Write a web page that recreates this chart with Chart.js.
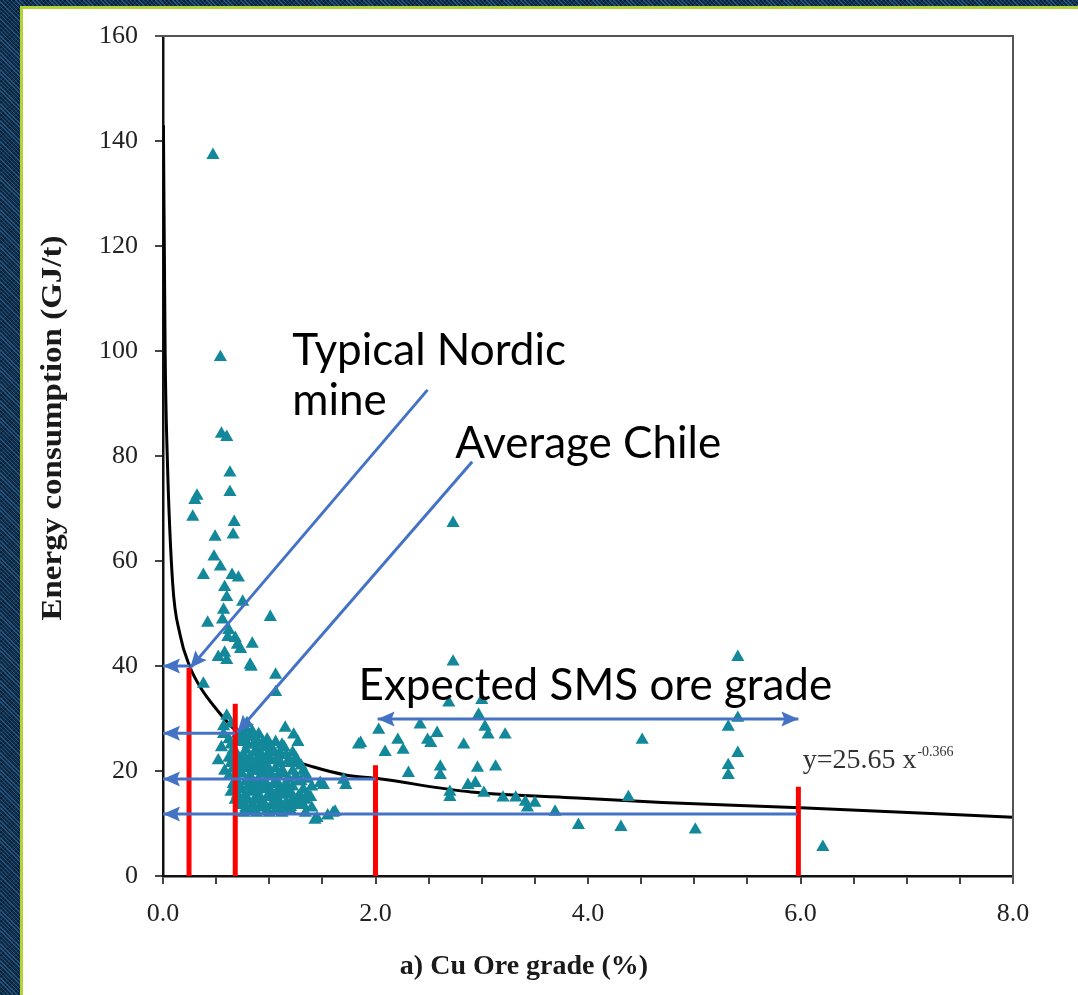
<!DOCTYPE html>
<html>
<head>
<meta charset="utf-8">
<script src="https://cdn.jsdelivr.net/npm/chart.js@4.4.0/dist/chart.umd.min.js"></script>
<style>
  html, body { margin: 0; padding: 0; width: 1078px; height: 995px; overflow: hidden; }
  body {
    background-color: #0f2f4d;
    background-image:
      repeating-linear-gradient(45deg, rgba(70,130,185,0.45) 0 1px, transparent 1px 3px),
      repeating-linear-gradient(-45deg, rgba(0,10,25,0.45) 0 1px, transparent 1px 3px);
  }
  #panel {
    position: absolute; left: 20px; top: 6px; right: 0; bottom: 0;
    background: #ffffff;
    border-left: 3px solid #b2d235; border-top: 3px solid #b2d235;
  }
  #wrap { position: absolute; left: 0; top: 0; width: 1078px; height: 995px; }
</style>
</head>
<body>
<div id="panel"></div>
<div id="wrap"><canvas id="c" width="1078" height="995"></canvas></div>
<script>
// Cu ore grade (%) vs. energy consumption (GJ/t) per mine
const cuGrade = [
  0.47, 0.54, 0.55, 0.60, 0.63, 0.63, 0.32, 0.30, 0.28, 0.67, 0.66, 0.49, 0.48, 0.54, 0.38,
  0.65, 0.71, 0.60, 0.75, 0.57, 0.42, 1.01, 0.56, 0.61, 0.68, 0.84, 0.73, 0.52, 0.60, 0.83,
  1.06, 0.38, 1.06, 0.58, 0.62, 0.70, 0.58, 0.82,
  0.55, 0.57, 0.52, 0.58, 0.60, 0.64, 0.57,
  0.62, 0.62, 0.62, 0.66, 0.66, 0.66, 0.70, 0.70, 0.70, 0.70, 0.70,
  0.74, 0.74, 0.74, 0.74, 0.74, 0.78, 0.78, 0.78, 0.78, 0.78,
  0.82, 0.82, 0.82, 0.82, 0.82, 0.86, 0.86, 0.86, 0.86, 0.86,
  0.90, 0.90, 0.90, 0.90, 0.90, 0.90, 0.94, 0.94, 0.94, 0.94, 0.94,
  0.98, 0.98, 0.98, 0.98, 0.98, 0.98, 1.02, 1.02, 1.02, 1.02, 1.02,
  1.06, 1.06, 1.06, 1.06, 1.06, 1.10, 1.10, 1.10, 1.10,
  1.14, 1.14, 1.14, 1.14, 1.18, 1.18, 1.18, 1.22, 1.22, 1.22, 1.22,
  1.27, 1.27, 1.27, 1.32, 1.32, 1.32, 1.36, 1.36,
  0.64, 0.64, 0.64, 0.68, 0.68, 0.68, 0.72, 0.72, 0.72, 0.72,
  0.76, 0.76, 0.76, 0.76, 0.76, 0.80, 0.80, 0.80, 0.80,
  0.84, 0.84, 0.84, 0.84, 0.88, 0.88, 0.88, 0.88, 0.92, 0.92, 0.92, 0.92,
  0.96, 0.96, 0.96, 0.96, 1.00, 1.00, 1.00, 1.00, 1.00,
  1.04, 1.04, 1.04, 1.08, 1.08, 1.08, 1.08, 1.12, 1.12, 1.12, 1.12,
  1.16, 1.16, 1.16, 1.20, 1.20, 1.20, 1.25, 1.25, 1.25, 1.30, 1.30, 1.30,
  1.34, 1.34, 1.34, 1.40, 1.40,
  0.79, 1.15, 1.23, 1.27, 0.75,
  1.51, 1.72, 1.39, 1.62, 1.43, 1.20, 1.48, 1.60, 1.45, 1.30, 1.55, 1.70,
  1.84, 2.03, 2.09, 1.86,
  2.21, 2.26, 2.42, 2.49, 2.58, 2.52, 2.83, 2.31, 2.61, 2.61, 2.96, 3.13, 2.70, 2.70, 2.87,
  2.94, 3.02, 3.20, 3.32, 3.41, 3.43, 3.50, 3.69, 3.91, 4.31, 4.38, 4.51,
  2.73, 2.73, 2.69, 3.00, 2.97, 3.03, 3.06, 3.22,
  5.41, 5.41, 5.32, 5.41, 5.32, 5.32, 5.01, 6.21
];
const energyGJt = [
  137.3, 98.8, 84.2, 83.6, 76.8, 73.1, 72.4, 71.6, 68.4, 67.4, 65.0, 64.6, 60.8, 58.9, 57.3,
  57.3, 56.8, 53.1, 52.2, 50.7, 48.2, 49.3, 48.8, 45.5, 45.3, 44.2, 43.2, 41.7, 41.1, 39.8,
  38.3, 36.6, 35.0, 55.0, 46.8, 44.0, 42.5, 40.2,
  24.5, 27.0, 22.0, 20.0, 30.5, 29.0, 28.5,
  26.0, 22.5, 19.0, 24.0, 20.5, 17.5, 27.0, 23.0, 21.0, 18.0, 15.5,
  25.5, 22.0, 19.5, 16.5, 14.0, 28.0, 24.0, 20.5, 18.0, 13.0,
  26.5, 22.5, 19.0, 16.0, 12.5, 25.0, 23.5, 21.0, 17.5, 14.5,
  27.0, 24.0, 20.0, 18.5, 15.5, 13.0, 25.5, 22.0, 19.5, 16.5, 14.0,
  26.0, 23.0, 21.0, 17.0, 15.0, 12.5, 24.5, 22.0, 19.0, 16.0, 13.5,
  25.5, 20.5, 18.0, 15.0, 12.5, 23.5, 21.5, 17.0, 14.0,
  24.5, 19.5, 16.5, 13.0, 22.0, 18.5, 15.5, 23.5, 20.0, 17.0, 14.5,
  21.5, 18.0, 15.0, 20.0, 16.5, 13.5, 18.5, 15.5,
  25.0, 21.5, 16.0, 23.5, 19.5, 14.5, 26.0, 20.0, 17.0, 13.5,
  27.0, 23.0, 21.0, 15.0, 12.0, 25.0, 21.5, 17.0, 14.5,
  27.5, 20.0, 18.0, 13.5, 26.0, 22.0, 16.5, 12.0, 23.0, 21.0, 17.5, 14.5,
  24.5, 20.5, 18.0, 13.5, 25.0, 22.5, 20.0, 15.5, 12.0,
  23.5, 17.5, 14.0, 22.5, 19.0, 16.0, 13.5, 25.0, 20.0, 15.5, 12.0,
  23.0, 17.5, 14.0, 21.5, 16.0, 12.5, 22.5, 19.0, 13.5, 21.0, 18.0, 15.0,
  19.5, 14.5, 12.0, 17.0, 13.0,
  29.1, 28.2, 26.9, 25.5, 25.9,
  17.3, 17.3, 15.0, 12.2, 10.7, 13.1, 17.7, 12.0, 11.0, 14.5, 11.5, 18.3,
  25.0, 27.8, 23.6, 25.3,
  25.9, 24.0, 28.8, 25.9, 27.2, 25.3, 25.0, 19.6, 20.8, 19.2, 20.6, 20.8, 16.0, 15.0, 17.3,
  17.7, 15.8, 14.9, 14.9, 14.1, 13.0, 13.9, 12.2, 9.7, 9.3, 15.0, 25.9,
  67.2, 40.8, 33.0, 33.5, 30.7, 28.4, 26.9, 26.9,
  41.7, 30.1, 28.4, 23.4, 21.1, 19.2, 8.8, 5.5
];

// Fitted trend curve
const fitGrade  = [0.004, 0.02, 0.04, 0.09, 0.16, 0.25, 0.35, 0.51, 0.68, 0.85, 1.10, 1.41, 1.73, 2.00, 2.90, 3.84, 4.70, 6.00, 8.00];
const fitEnergy = [143,   100,  80,   56,   46,   40,   36,   31.6, 27.8, 25.9, 23.0, 20.8, 19.2, 18.6, 16.0, 14.9, 14.0, 13.0, 11.2];
const fitCoef = '25.65';
const fitExp  = '-0.366';

// Highlighted grades (red markers) and their energy levels (blue arrows to the axis)
const markGrade  = [0.245, 0.68, 2.00, 5.98];
const markTop    = [39.6, 32.8, 21.1, 17.0];
const levelFrom  = [0.25, 0.68, 2.00, 5.97];
const levelY     = [40.0, 27.2, 18.5, 11.8];

// Callout arrows: [fromX, fromY, toX, toY]
const nordicArrow = [2.49, 92.6, 0.255, 39.6];
const chileArrow  = [2.91, 78.9, 0.70, 27.4];
const smsRange    = [2.02, 5.98];
const smsLevel    = 29.9;

const xTickLabels = ['0.0', '2.0', '4.0', '6.0', '8.0'];
const yTickLabels = ['0', '20', '40', '60', '80', '100', '120', '140', '160'];

const TEAL = '#12889a';
const RED = '#ff0000';
const BLUE = '#4472c4';

function seg(x1, y1, x2, y2) { return [{x: x1, y: y1}, {x: x2, y: y2}]; }

const datasets = [];
datasets.push({
  type: 'scatter', label: 'Mines', order: 3,
  data: cuGrade.map((g, i) => ({x: g, y: energyGJt[i]})),
  pointStyle: 'triangle', pointRadius: 7.6, pointHoverRadius: 7.6,
  backgroundColor: TEAL, borderColor: TEAL, borderWidth: 0
});
datasets.push({
  type: 'line', label: 'Fit', order: 4,
  data: fitGrade.map((g, i) => ({x: g, y: fitEnergy[i]})),
  borderColor: '#000', borderWidth: 3, pointRadius: 0, fill: false,
  cubicInterpolationMode: 'monotone'
});
markGrade.forEach((g, i) => {
  datasets.push({
    type: 'line', label: 'mark' + i, order: 1,
    data: seg(g, 0, g, markTop[i]),
    borderColor: RED, borderWidth: 5, pointRadius: 0, borderCapStyle: 'butt'
  });
});
levelY.forEach((v, i) => {
  datasets.push({
    type: 'line', label: 'level' + i, order: 0, arrowHead: 'end',
    data: seg(levelFrom[i], v, 0, v),
    borderColor: BLUE, borderWidth: 3, pointRadius: 0, clip: false
  });
});
[nordicArrow, chileArrow].forEach((a, i) => {
  datasets.push({
    type: 'line', label: 'callout' + i, order: 0, arrowHead: 'end',
    data: seg(a[0], a[1], a[2], a[3]),
    borderColor: BLUE, borderWidth: 3, pointRadius: 0, clip: false
  });
});
datasets.push({
  type: 'line', label: 'sms', order: 0, arrowHead: 'both',
  data: seg(smsRange[0], smsLevel, smsRange[1], smsLevel),
  borderColor: BLUE, borderWidth: 3, pointRadius: 0, clip: false
});

function head(ctx, fx, fy, tx, ty, len, half, color) {
  const ang = Math.atan2(ty - fy, tx - fx);
  ctx.save();
  ctx.translate(tx, ty);
  ctx.rotate(ang);
  ctx.beginPath();
  ctx.moveTo(0, 0);
  ctx.lineTo(-len, -half);
  ctx.lineTo(-len * 0.82, 0);
  ctx.lineTo(-len, half);
  ctx.closePath();
  ctx.fillStyle = color;
  ctx.fill();
  ctx.restore();
}

const arrowHeads = {
  id: 'arrowHeads',
  afterDatasetsDraw(chart) {
    const ctx = chart.ctx;
    chart.data.datasets.forEach((ds, i) => {
      if (!ds.arrowHead) return;
      const pts = chart.getDatasetMeta(i).data;
      const a = pts[0], b = pts[1];
      head(ctx, a.x, a.y, b.x, b.y, 17, 7.5, ds.borderColor);
      if (ds.arrowHead === 'both') head(ctx, b.x, b.y, a.x, a.y, 17, 7.5, ds.borderColor);
    });
  }
};

// Plot frame (top and right edges) plus axis titles and text callouts
const decorations = {
  id: 'decorations',
  afterDraw(chart) {
    const {ctx, chartArea: ca, scales: {x, y}} = chart;
    ctx.save();
    ctx.strokeStyle = '#555';
    ctx.lineWidth = 2;
    ctx.beginPath();
    ctx.moveTo(ca.left - 8, ca.top);
    ctx.lineTo(ca.right, ca.top);
    ctx.lineTo(ca.right, ca.bottom + 8);
    ctx.stroke();

    // axis titles
    ctx.fillStyle = '#1a1a1a';
    ctx.font = 'bold 28px "Liberation Serif", "DejaVu Serif", serif';
    ctx.textAlign = 'center';
    ctx.textBaseline = 'middle';
    ctx.fillText('a) Cu Ore grade (%)', 524, 967);
    ctx.font = 'bold 29px "Liberation Serif", "DejaVu Serif", serif';
    const yTitle = 'Energy consumption (GJ/t)';
    const stretch = 385 / ctx.measureText(yTitle).width;
    ctx.save();
    ctx.translate(54, 428);
    ctx.rotate(-Math.PI / 2);
    ctx.scale(stretch, 1);
    ctx.fillText(yTitle, 0, 0);
    ctx.restore();

    // callout labels
    ctx.fillStyle = '#000';
    ctx.textAlign = 'left';
    ctx.textBaseline = 'alphabetic';
    ctx.font = '44px Lato, "Open Sans", sans-serif';
    const callouts = [
      ['Typical Nordic', 1.216, 97.4],
      ['mine', 1.216, 87.8],
      ['Average Chile', 2.75, 79.6],
      ['Expected SMS ore grade', 1.84, 33.6]
    ];
    callouts.forEach(([t, gx, gy]) => ctx.fillText(t, x.getPixelForValue(gx), y.getPixelForValue(gy)));

    // fitted equation
    ctx.fillStyle = '#333';
    ctx.font = '28px "Liberation Serif", serif';
    const ex = x.getPixelForValue(6.02), ey = y.getPixelForValue(20.6);
    const main = 'y=' + fitCoef + ' x';
    ctx.fillText(main, ex, ey);
    const w = ctx.measureText(main).width;
    ctx.font = '14px "Liberation Serif", serif';
    ctx.fillText(fitExp, ex + w + 1, ey - 12);
    ctx.restore();
  }
};

new Chart(document.getElementById('c'), {
  data: {datasets},
  options: {
    responsive: false,
    devicePixelRatio: 1,
    animation: false,
    events: [],
    layout: {padding: {left: 33, top: 36, right: 65, bottom: 9}},
    plugins: {legend: {display: false}, tooltip: {enabled: false}},
    scales: {
      x: {
        type: 'linear', position: 'bottom', min: 0, max: 8,
        afterFit(s) { s.height = 110; },
        ticks: {
          stepSize: 0.5, autoSkip: false, maxRotation: 0, padding: 15,
          color: '#222',
          font: {family: '"Liberation Serif", serif', size: 26},
          callback(v) {
            const k = Math.round(v * 2);
            return k % 4 === 0 ? xTickLabels[k / 4] : '';
          }
        },
        grid: {drawOnChartArea: false, drawTicks: true, tickLength: 8, color: '#444', lineWidth: 2},
        border: {display: true, color: '#111', width: 2.5}
      },
      y: {
        type: 'linear', position: 'left', min: 0, max: 160,
        afterFit(s) { s.width = 130; },
        ticks: {
          stepSize: 20, padding: 17, color: '#222',
          font: {family: '"Liberation Serif", serif', size: 26},
          callback(v) { return yTickLabels[Math.round(v / 20)]; }
        },
        grid: {drawOnChartArea: false, drawTicks: true, tickLength: 8, color: '#444', lineWidth: 2},
        border: {display: true, color: '#111', width: 2.5}
      }
    }
  },
  plugins: [arrowHeads, decorations]
});
</script>
</body>
</html>
